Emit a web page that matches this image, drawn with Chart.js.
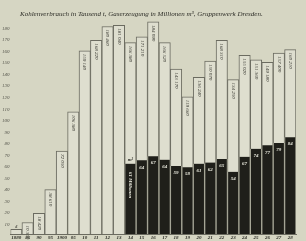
<!DOCTYPE html>
<html>
<head>
<meta charset="utf-8">
<script src="https://cdn.jsdelivr.net/npm/chart.js@4.4.1/dist/chart.umd.min.js"></script>
<style>
  html, body { margin: 0; padding: 0; background: #d6d6c3; }
  #wrap { width: 306px; height: 241px; }
</style>
</head>
<body>
<div id="wrap"><canvas id="chart"></canvas></div>
<script>
// Gruppenwerk Dresden: coal use (1000 t) and gas output (Mill. m3)
const years = ['1880', '85', '90', '95', '1900', '05', '10', '11', '12', '13', '14', '15', '16',
               '17', '18', '19', '20', '21', '22', '23', '24', '25', '26', '27', '28'];
const coal = [4, 10, 18, 38.5, 72, 106, 159, 168, 180, 181, 166, 171, 184,
              166, 143, 119, 136, 150, 168, 134, 155, 151, 149, 157, 160];
const gas = [null, null, null, null, null, null, null, null, null, null, 61, 64, 67.5,
             64.5, 59, 58, 61, 62, 65, 54, 67, 74, 77, 79, 84];
const coalLabels = ['4', '10 350', '18 420', '38 610', '72 050', '106 380', '159 140', '168 220', '180 460', '181 040', '166 380', '171 210', '184 090',
                    '166 520', '143 170', '119 660', '136 240', '150 070', '168 310', '134 250', '155 020', '151 360', '149 180', '157 400', '160 210'];
const gasLabels = [null, null, null, null, null, null, null, null, null, null, null, '64', '67',
                   '64', '59', '58', '61', '62', '65', '54', '67', '74', '77', '79', '84'];
const yTicks = [10, 20, 30, 40, 50, 60, 70, 80, 90, 100, 110, 120, 130, 140, 150, 160, 170, 180];

const title = 'Kohlenverbrauch in Tausend t, Gaserzeugung in Millionen m³, Gruppenwerk Dresden.';
const hand = '"Liberation Serif", serif';

// title and the small handwritten numbers in the bars
const barText = {
  id: 'barText',
  afterDatasetsDraw(chart) {
    const ctx = chart.ctx;
    const coalMeta = chart.getDatasetMeta(0);
    const gasMeta = chart.getDatasetMeta(1);
    ctx.save();

    ctx.fillStyle = '#2c2c26';
    ctx.font = 'italic 7px ' + hand;
    ctx.textAlign = 'left';
    ctx.textBaseline = 'middle';
    ctx.fillText(title, 20, 14, 264);

    ctx.font = 'italic 5px ' + hand;
    coalMeta.data.forEach((bar, i) => {
      const t = coalLabels[i];
      if (!t) return;
      ctx.save();
      ctx.translate(bar.x, bar.y + 3);
      ctx.rotate(Math.PI / 2);
      ctx.fillStyle = '#3a3a33';
      ctx.textAlign = 'left';
      ctx.textBaseline = 'middle';
      if (i === 0) {
        ctx.rotate(-Math.PI / 2);
        ctx.textAlign = 'center';
        ctx.fillText(t, 0, -6);
      } else {
        ctx.fillText(t, 0, 0);
      }
      ctx.restore();
    });

    ctx.font = 'bold italic 5px ' + hand;
    gasMeta.data.forEach((bar, i) => {
      if (gas[i] === null) return;
      ctx.fillStyle = '#e8e8dc';
      ctx.textAlign = 'center';
      ctx.textBaseline = 'middle';
      if (gasLabels[i]) {
        ctx.fillText(gasLabels[i], bar.x, bar.y + 7);
      } else {
        // first gas bar: unit above, caption down the bar
        ctx.fillStyle = '#2c2c26';
        ctx.fillText('m³', bar.x, bar.y - 4);
        ctx.save();
        ctx.fillStyle = '#e8e8dc';
        ctx.translate(bar.x, bar.y + 8);
        ctx.rotate(Math.PI / 2);
        ctx.textAlign = 'left';
        ctx.fillText('61 Millionen', 0, 0);
        ctx.restore();
      }
    });
    ctx.restore();
  }
};

new Chart(document.getElementById('chart'), {
  type: 'bar',
  data: {
    labels: years,
    datasets: [
      {
        label: 'Kohlenverbrauch',
        data: coal,
        backgroundColor: '#dedecf',
        borderColor: '#6b6b60',
        borderWidth: { top: 1, left: 1, right: 1, bottom: 0 },
        borderSkipped: false,
        grouped: false,
        order: 1,
        barPercentage: 1,
        categoryPercentage: 1
      },
      {
        label: 'Gaserzeugung',
        data: gas,
        backgroundColor: '#1f1f1a',
        borderColor: '#a9a999',
        borderWidth: { top: 0, left: 1, right: 1, bottom: 0 },
        borderSkipped: false,
        grouped: false,
        order: 0,
        barPercentage: 1,
        categoryPercentage: 1
      }
    ]
  },
  options: {
    responsive: true,
    maintainAspectRatio: false,
    animation: false,
    layout: { padding: { top: 15, right: 10, left: 1, bottom: -1 } },
    plugins: {
      legend: { display: false },
      tooltip: { enabled: false },
      title: { display: false }
    },
    scales: {
      x: {
        grid: { display: false, drawTicks: false },
        border: { display: true, color: '#6b6b60' },
        ticks: {
          color: '#2c2c26',
          font: { family: hand, size: 5, style: 'italic', weight: 'bold' },
          padding: 1,
          maxRotation: 0,
          autoSkip: false
        }
      },
      y: {
        min: 0,
        max: 190,
        grid: { display: false, drawTicks: false },
        border: { display: false },
        afterBuildTicks(scale) { scale.ticks = yTicks.map(v => ({ value: v })); },
        ticks: {
          color: '#55554b',
          font: { family: hand, size: 5, style: 'italic' },
          padding: 1,
          labelOffset: 2,
          callback: (v) => String(v)
        }
      }
    }
  },
  plugins: [barText]
});
</script>
</body>
</html>
